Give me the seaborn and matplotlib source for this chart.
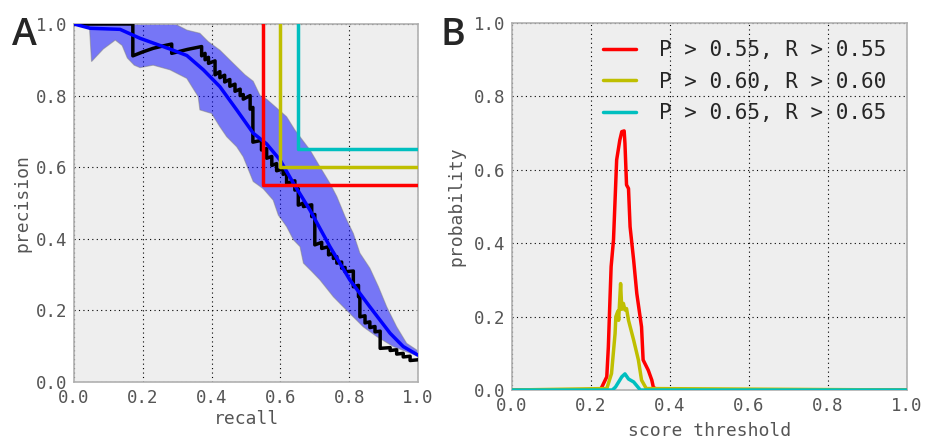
import matplotlib
matplotlib.use("Agg")
import matplotlib.pyplot as plt
import seaborn as sns
import numpy as np
import pandas as pd

# ---------------- Panel A data ----------------
pr_recall = [0.0, 0.171, 0.171, 0.20, 0.23, 0.26, 0.284, 0.284, 0.33, 0.371, 0.371, 0.381, 0.381,
             0.391, 0.391, 0.41, 0.41, 0.424, 0.424, 0.438, 0.438, 0.453, 0.453, 0.468, 0.468,
             0.483, 0.483, 0.492, 0.492, 0.512, 0.512, 0.52, 0.52, 0.545, 0.545, 0.56, 0.56,
             0.575, 0.575, 0.589, 0.589, 0.608, 0.608, 0.618, 0.618, 0.642, 0.642, 0.652, 0.652,
             0.667, 0.667, 0.691, 0.691, 0.70, 0.70, 0.72, 0.72, 0.74, 0.74, 0.754, 0.754,
             0.764, 0.764, 0.778, 0.778, 0.788, 0.788, 0.812, 0.812, 0.827, 0.827, 0.831, 0.831,
             0.846, 0.846, 0.86, 0.86, 0.875, 0.875, 0.89, 0.89, 0.919, 0.919, 0.938, 0.938,
             0.957, 0.957, 0.977, 0.977, 1.0]
pr_precision = [1.0, 1.0, 0.911, 0.922, 0.932, 0.939, 0.944, 0.918, 0.929, 0.937, 0.911, 0.918, 0.90,
                0.907, 0.89, 0.897, 0.858, 0.867, 0.85, 0.857, 0.838, 0.845, 0.826, 0.832, 0.812,
                0.818, 0.80, 0.803, 0.79, 0.80, 0.762, 0.767, 0.67, 0.675, 0.648, 0.652, 0.625,
                0.63, 0.605, 0.61, 0.59, 0.595, 0.58, 0.585, 0.555, 0.562, 0.536, 0.54, 0.494,
                0.50, 0.49, 0.495, 0.462, 0.468, 0.383, 0.39, 0.373, 0.378, 0.355, 0.36, 0.345,
                0.35, 0.332, 0.335, 0.318, 0.32, 0.308, 0.31, 0.266, 0.27, 0.238, 0.24, 0.182,
                0.185, 0.165, 0.168, 0.152, 0.155, 0.14, 0.142, 0.094, 0.096, 0.088, 0.09, 0.078,
                0.08, 0.07, 0.072, 0.06, 0.062]

mean_recall = [0.0, 0.047, 0.134, 0.192, 0.279, 0.328, 0.376, 0.424, 0.473, 0.521, 0.56, 0.599,
               0.638, 0.686, 0.744, 0.802, 0.86, 0.919, 0.957, 1.0]
mean_precision = [1.0, 0.988, 0.985, 0.96, 0.93, 0.912, 0.872, 0.825, 0.76, 0.695, 0.665, 0.62,
                  0.555, 0.48, 0.378, 0.285, 0.21, 0.136, 0.099, 0.075]

upper_recall = [0.0, 0.294, 0.328, 0.366, 0.39, 0.424, 0.463, 0.497, 0.521, 0.541, 0.56, 0.618,
                0.642, 0.686, 0.715, 0.744, 0.764, 0.788, 0.812, 0.831, 0.86, 0.885, 0.909,
                0.938, 0.967, 1.0]
upper_precision = [1.0, 1.0, 0.983, 0.974, 0.951, 0.927, 0.89, 0.858, 0.84, 0.80, 0.79, 0.741,
                   0.704, 0.648, 0.601, 0.555, 0.518, 0.462, 0.415, 0.36, 0.318, 0.266, 0.21,
                   0.154, 0.108, 0.087]

lower_recall = [0.0, 0.045, 0.051, 0.085, 0.12, 0.14, 0.155, 0.175, 0.192, 0.23, 0.279, 0.328,
                0.361, 0.366, 0.40, 0.424, 0.444, 0.473, 0.492, 0.521, 0.55, 0.579, 0.594,
                0.618, 0.638, 0.657, 0.667, 0.69, 0.715, 0.754, 0.797, 0.841, 0.88, 0.928, 1.0]
lower_precision = [1.0, 0.99, 0.895, 0.93, 0.955, 0.94, 0.905, 0.885, 0.878, 0.885, 0.872, 0.848,
                   0.797, 0.76, 0.75, 0.713, 0.685, 0.657, 0.629, 0.56, 0.54, 0.508, 0.466,
                   0.434, 0.397, 0.378, 0.332, 0.31, 0.285, 0.238, 0.196, 0.154, 0.127, 0.099, 0.072]

thresholds = [0.55, 0.60, 0.65]
threshold_colors = ["r", "y", "c"]

# ---------------- Panel B data ----------------
red_score = [0.0, 0.222, 0.227, 0.24, 0.244, 0.248, 0.251, 0.257, 0.261, 0.265, 0.273, 0.278, 0.284,
             0.286, 0.29, 0.295, 0.299, 0.308, 0.316, 0.328, 0.332, 0.345, 0.354, 0.358, 0.37, 1.0]
red_prob = [0.0, 0.0, 0.007, 0.036, 0.118, 0.245, 0.336, 0.409, 0.518, 0.627, 0.681, 0.704, 0.706,
            0.672, 0.559, 0.549, 0.445, 0.354, 0.263, 0.172, 0.082, 0.054, 0.027, 0.007, 0.0, 0.0]
yellow_score = [0.0, 0.24, 0.252, 0.261, 0.263, 0.268, 0.27, 0.275, 0.278, 0.282, 0.286, 0.29,
                0.295, 0.308, 0.32, 0.328, 0.34, 1.0]
yellow_prob = [0.0, 0.004, 0.045, 0.154, 0.2, 0.215, 0.19, 0.29, 0.22, 0.236, 0.218, 0.222,
               0.19, 0.136, 0.082, 0.027, 0.004, 0.0]
cyan_score = [0.0, 0.254, 0.262, 0.278, 0.286, 0.295, 0.308, 0.325, 1.0]
cyan_prob = [0.0, 0.0, 0.008, 0.036, 0.044, 0.03, 0.022, 0.0, 0.0]

legend_labels = ["P > 0.55, R > 0.55", "P > 0.60, R > 0.60", "P > 0.65, R > 0.65"]
tick_values = [0.0, 0.2, 0.4, 0.6, 0.8, 1.0]
tick_labels = ["0.0", "0.2", "0.4", "0.6", "0.8", "1.0"]

# ---------------- Style ----------------
sns.set_style("whitegrid", {
    "axes.facecolor": "#eeeeee",
    "axes.edgecolor": "#b0b0b0",
    "grid.color": "black",
    "grid.linestyle": (0, (1, 3)),
})
plt.rcParams["font.family"] = ["DejaVu Sans Mono", "DejaVu Sans"]
plt.rcParams["grid.linewidth"] = 0.8

LW = 2.5

fig = plt.figure(figsize=(9.25, 4.41), dpi=100)
fig.patch.set_facecolor("white")
axA = fig.add_axes([0.080, 0.1338, 0.3719, 0.8118])
axB = fig.add_axes([0.5535, 0.1156, 0.4270, 0.8322])

# Panel A
band_x = np.concatenate([upper_recall, lower_recall[::-1]])
band_y = np.concatenate([upper_precision, lower_precision[::-1]])
axA.fill(band_x, band_y, facecolor="blue", alpha=0.5, edgecolor="gray", linewidth=0.8, zorder=2)
sns.lineplot(x=pr_recall, y=pr_precision, sort=False, estimator=None, ax=axA,
             color="black", linewidth=LW, zorder=3)
sns.lineplot(x=mean_recall, y=mean_precision, sort=False, estimator=None, ax=axA,
             color="blue", linewidth=LW, zorder=4)
for t, c in zip(thresholds, threshold_colors):
    sns.lineplot(x=[t, t, 1.0], y=[1.0, t, t], sort=False, estimator=None, ax=axA,
                 color=c, linewidth=LW, zorder=5)

# Panel B
for xs, ys, c, lab in [(red_score, red_prob, "r", legend_labels[0]),
                       (yellow_score, yellow_prob, "y", legend_labels[1]),
                       (cyan_score, cyan_prob, "c", legend_labels[2])]:
    sns.lineplot(x=xs, y=ys, sort=False, estimator=None, ax=axB,
                 color=c, linewidth=LW, label=lab, zorder=3)

for ax, xl, yl, xpad, ypad in [(axA, "recall", "precision", 2, 3),
                               (axB, "score threshold", "probability", 5, 6)]:
    ax.set_xlim(0, 1)
    ax.set_ylim(0, 1)
    ax.set_xticks(tick_values)
    ax.set_yticks(tick_values)
    ax.set_xticklabels(tick_labels)
    ax.set_yticklabels(tick_labels)
    ax.tick_params(length=0, pad=5, labelsize=12.5, labelcolor="#555555")
    ax.set_xlabel(xl, fontsize=13, color="#555555", labelpad=xpad)
    ax.set_ylabel(yl, fontsize=13, color="#555555", labelpad=ypad)
    ax.grid(True, zorder=1)
    ax.set_axisbelow(True)
    for s in ax.spines.values():
        s.set_color("#b0b0b0")
        s.set_linewidth(1.2)

leg = axB.legend(loc="upper left", bbox_to_anchor=(0.209, 0.976), borderaxespad=0,
                 frameon=False, fontsize=15, handlelength=1.6, handletextpad=1.1,
                 labelspacing=0.55)

fig.text(12 / 925, 1 - 45 / 441, "A", fontsize=27, family="Open Sans", fontweight="semibold",
         va="baseline", ha="left")
fig.text(441 / 925, 1 - 45 / 441, "B", fontsize=27, family="Open Sans", fontweight="semibold",
         va="baseline", ha="left")

fig.savefig("out.png", dpi=100)
